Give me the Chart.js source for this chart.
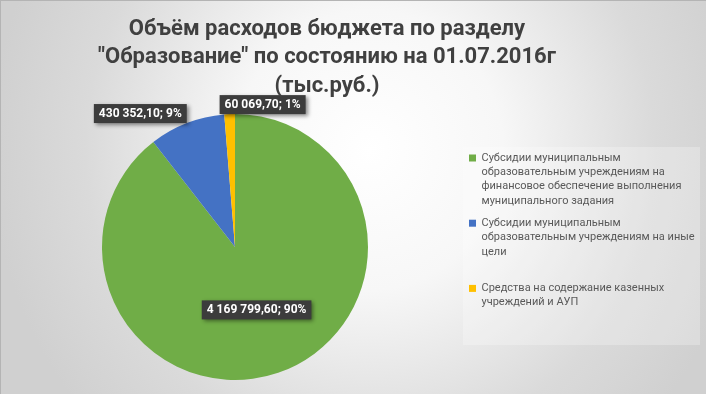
<!DOCTYPE html>
<html>
<head>
<meta charset="utf-8">
<script src="https://cdn.jsdelivr.net/npm/chart.js@4.4.0/dist/chart.umd.min.js"></script>
<style>
  html, body { margin: 0; padding: 0; background: #fff; }
  #wrap { width: 706px; height: 394px; position: relative; }
</style>
</head>
<body>
<div id="wrap"><canvas id="myChart" width="706" height="394"></canvas></div>
<script>
// data
const titleLines = [
  'Объём расходов бюджета по разделу',
  '"Образование" по состоянию на 01.07.2016г',
  '(тыс.руб.)',
];
const categories = [
  ['Субсидии муниципальным', 'образовательным учреждениям на', 'финансовое обеспечение выполнения', 'муниципального задания'],
  ['Субсидии муниципальным', 'образовательным учреждениям на иные', 'цели', ''],
  ['Средства на содержание казенных', 'учреждений и АУП'],
];
const values = [4169799.60, 430352.10, 60069.70];
const percentLabels = ['90%', '9%', '1%'];
const colors = ['#70AD47', '#4472C4', '#FFC000'];
const labelPlacement = ['inside', 'outside-left', 'outside-right'];

const FONT = 'Roboto, "Noto Sans", sans-serif';

// 4169799.6 -> "4 169 799,60"
const fmtNum = v => {
  const parts = v.toFixed(2).split('.');
  return parts[0].replace(/\B(?=(\d{3})+(?!\d))/g, ' ') + ',' + parts[1];
};

// background gradient + border, drawn before everything
const backgroundPlugin = {
  id: 'bg',
  beforeDraw(chart) {
    const { ctx, width, height } = chart;
    ctx.save();
    ctx.translate(370, 150);
    ctx.scale(1, 400 / 380);
    const g = ctx.createRadialGradient(0, 0, 0, 0, 0, 380);
    g.addColorStop(0, '#ffffff');
    g.addColorStop(0.35, '#f7f7f7');
    g.addColorStop(0.75, '#dadada');
    g.addColorStop(1, '#d0d0d0');
    ctx.fillStyle = g;
    ctx.fillRect(-400, -300, width + 800, height + 600);
    ctx.restore();

    // faint box behind legend
    const lg = chart.legend;
    ctx.save();
    ctx.fillStyle = 'rgba(255,255,255,0.25)';
    ctx.fillRect(lg.left + 2, lg.top + 33, width - lg.left - 8, lg.bottom - lg.top - 68);
    ctx.restore();

    ctx.save();
    ctx.strokeStyle = '#b4b4b4';
    ctx.lineWidth = 1;
    ctx.beginPath();
    ctx.moveTo(0, 0.5);
    ctx.lineTo(width, 0.5);
    ctx.moveTo(0.5, 0);
    ctx.lineTo(0.5, height);
    ctx.stroke();
    ctx.restore();
  },
};

// three-line title, centred a bit left of the canvas like the original
const titlePlugin = {
  id: 'bigTitle',
  afterDraw(chart) {
    const { ctx } = chart;
    ctx.save();
    ctx.font = 'bold 22px ' + FONT;
    ctx.fillStyle = '#404040';
    ctx.textAlign = 'center';
    ctx.textBaseline = 'middle';
    titleLines.forEach((line, i) => ctx.fillText(line, 327, 29 + i * 28.5));
    ctx.restore();
  },
};

// dark callout labels "value; percent"
const labelPlugin = {
  id: 'sliceLabels',
  afterDatasetsDraw(chart) {
    const { ctx } = chart;
    const meta = chart.getDatasetMeta(0);
    ctx.save();
    ctx.font = 'bold 12px ' + FONT;
    meta.data.forEach((arc, i) => {
      const { x, y, startAngle, endAngle, outerRadius } =
        arc.getProps(['x', 'y', 'startAngle', 'endAngle', 'outerRadius'], true);
      const mid = (startAngle + endAngle) / 2;
      const text = fmtNum(values[i]) + '; ' + percentLabels[i];
      const w = ctx.measureText(text).width + 10;
      const h = 19;
      let bx, by;
      if (labelPlacement[i] === 'inside') {
        const cx = x + Math.cos(mid) * outerRadius * 0.5;
        const cy = y + Math.sin(mid) * outerRadius * 0.5;
        bx = cx - w / 2;
        by = cy - h / 2;
      } else {
        const ax = x + Math.cos(mid) * outerRadius;
        const ay = y + Math.sin(mid) * outerRadius;
        by = ay - h;
        bx = labelPlacement[i] === 'outside-left' ? ax - w : ax - 10;
      }
      ctx.shadowColor = 'rgba(0,0,0,0.45)';
      ctx.shadowBlur = 4;
      ctx.shadowOffsetX = 2;
      ctx.shadowOffsetY = 2;
      ctx.fillStyle = '#3c3c3c';
      ctx.fillRect(bx, by, w, h);
      ctx.shadowColor = 'transparent';
      ctx.fillStyle = '#ffffff';
      ctx.textAlign = 'center';
      ctx.textBaseline = 'middle';
      ctx.fillText(text, bx + w / 2, by + h / 2 + 0.5);
    });
    ctx.restore();
  },
};

const ctx = document.getElementById('myChart').getContext('2d');
const myChart = new Chart(ctx, {
  type: 'pie',
  data: {
    labels: categories,
    datasets: [{
      data: values,
      backgroundColor: colors,
      borderWidth: 0,
    }],
  },
  options: {
    responsive: false,
    animation: false,
    devicePixelRatio: 1,
    layout: {
      padding: { top: 114, bottom: 14, left: 9, right: 4 },
    },
    plugins: {
      title: { display: false },
      tooltip: { enabled: false },
      legend: {
        display: true,
        position: 'right',
        align: 'start',
        maxWidth: 241,
        title: { display: true, text: '', font: { size: 10, lineHeight: 1 }, padding: { top: 20.5, bottom: 0 } },
        labels: {
          boxWidth: 7,
          boxHeight: 7,
          padding: 8,
          color: '#595959',
          font: { family: FONT, size: 11, lineHeight: 1.3 },
        },
      },
    },
  },
  plugins: [backgroundPlugin, labelPlugin, titlePlugin],
});
</script>
</body>
</html>
